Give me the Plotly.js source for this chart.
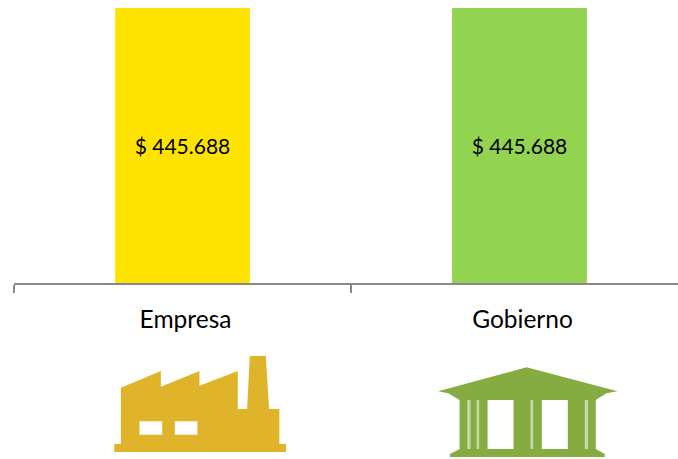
<!DOCTYPE html>
<html><head><meta charset="utf-8">
<script src="https://cdn.plot.ly/plotly-3.0.1.min.js"></script>
<style>html,body{margin:0;padding:0;background:#fff;overflow:hidden;width:678px;height:459px}#c{width:690px;height:459px}</style>
</head><body><div id="c"></div>
<script>
var categories = ["Empresa", "Gobierno"];
var values = [445688, 445688];
var labels = ["$ 445.688", "$ 445.688"];
var barColors = ["#FFE300", "#92D350"];
var fontName = "Lato, Carlito, sans-serif";

var factorySvg = '<svg xmlns="http://www.w3.org/2000/svg" viewBox="110 352 180 104"><defs><filter id="b"><feGaussianBlur stdDeviation="0.4"/></filter></defs><path filter="url(#b)" fill-rule="evenodd" fill="#E0B42A" d="M114 444H120.7V387.7L160.7 371V386.7L199.3 371V385.7L237.7 371V409H247L249.7 356H265.7L269 409H279.3V444H286V452H114Z M139.3 421.3V434.7H162V421.3Z M174.7 421.3V434.7H197.3V421.3Z"/></svg>';
var templeSvg = '<svg xmlns="http://www.w3.org/2000/svg" viewBox="434 363 188 96"><defs><filter id="b"><feGaussianBlur stdDeviation="0.4"/></filter></defs><g filter="url(#b)"><path fill-rule="evenodd" fill="#84AC41" d="M526.7 367.3L617.7 391.3L606.7 393.3L596 400V449L605 454V457H450V454L459.7 449V400L448.3 393.3L438.3 391.3Z M487.7 400V449H513.7V400Z M542 400V449H568V400Z"/><path fill="#C5D8A5" d="M467.3 400h3.4v49h-3.4Z M476.7 400h2.6v49h-2.6Z M530.7 400h2.6v49h-2.6Z M585 400h3.3v49h-3.3Z"/></g></svg>';

function uri(s){return "data:image/svg+xml;charset=utf-8," + encodeURIComponent(s);}
var W = 690, H = 459, L = 13.7, R = 1.7, T = 8, B = 176;
var pw = W - L - R, ph = H - T - B;
function icon(svg, x0, y0, x1, y1){
  return {source: uri(svg), xref:"paper", yref:"paper",
    x:(x0-L)/pw, y:(H-B-y0)/ph, sizex:(x1-x0)/pw, sizey:(y1-y0)/ph,
    xanchor:"left", yanchor:"top", sizing:"stretch", layer:"above"};
}

Plotly.newPlot("c", [{
  type:"bar", x:categories, y:values, text:labels,
  marker:{color:barColors, line:{width:0}},
  textposition:"inside", insidetextanchor:"middle", textangle:0,
  insidetextfont:{family:fontName, size:21, color:"#000"},
  hoverinfo:"skip", cliponaxis:false
}], {
  width:W, height:H, margin:{l:L, r:R, t:T, b:B, pad:0},
  paper_bgcolor:"#fff", plot_bgcolor:"#fff", showlegend:false, bargap:0.6,
  xaxis:{type:"category", tickson:"boundaries", ticks:"outside", ticklen:8, tickwidth:2, tickcolor:"#898989",
    showline:true, linecolor:"#898989", linewidth:2, showgrid:false, zeroline:false,
    tickfont:{family:fontName, size:24.5, color:"#000"}, ticklabelstandoff:14, ticklabelshift:3},
  yaxis:{range:[0,445688], visible:false, fixedrange:true},
  images:[icon(factorySvg,110,352,290,456), icon(templeSvg,434,363,622,459)]
}, {staticPlot:true, displayModeBar:false});
</script></body></html>
